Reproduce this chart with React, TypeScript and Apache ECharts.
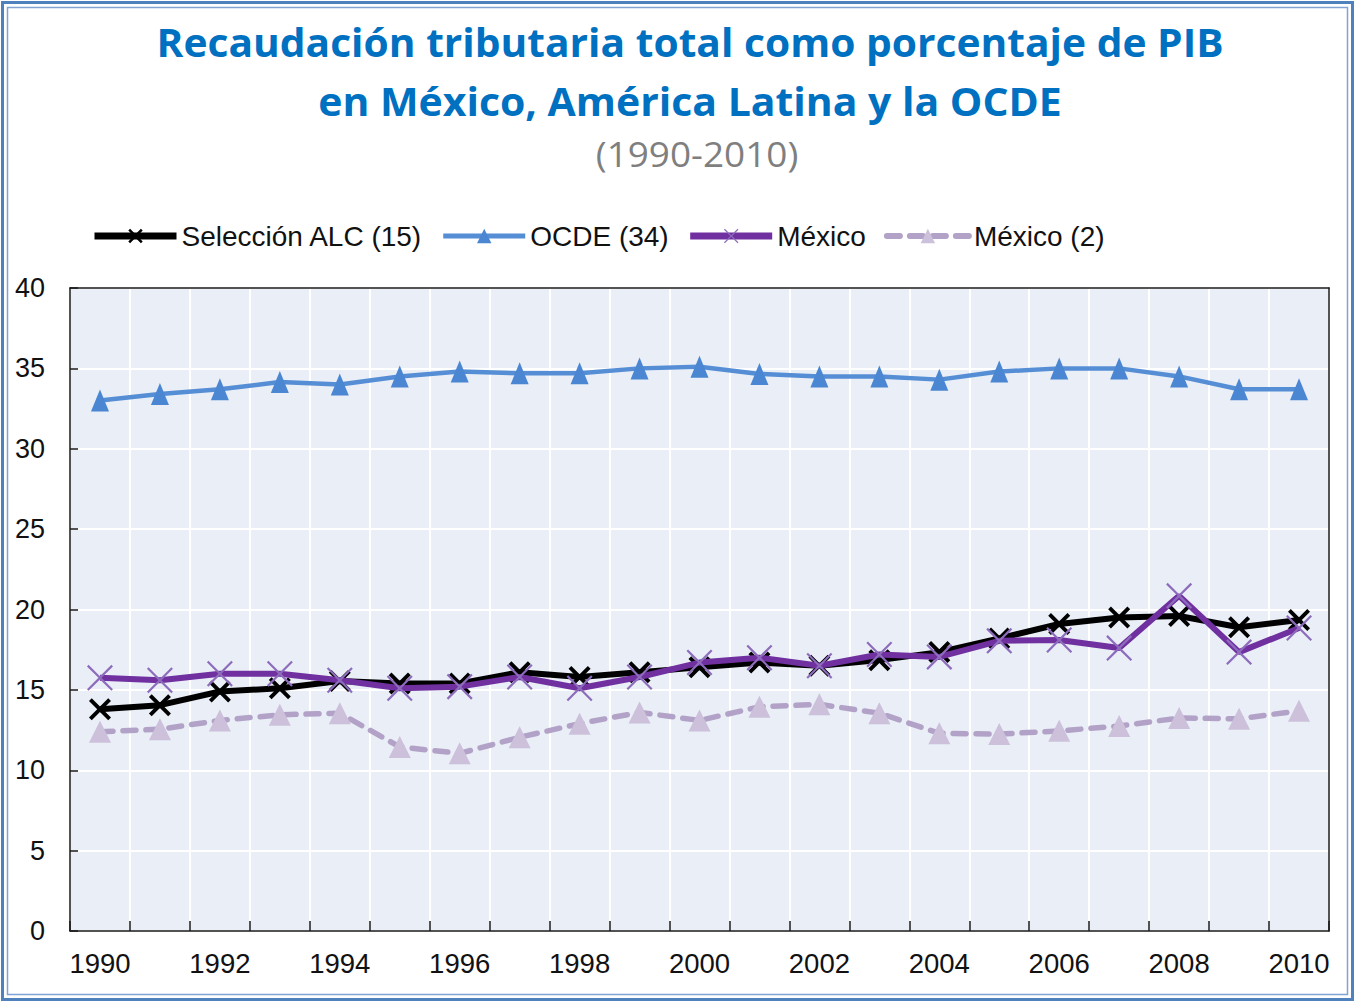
import React, { useEffect, useRef } from "react";
import * as echarts from "echarts";

const years = [
  "1990", "1991", "1992", "1993", "1994", "1995", "1996", "1997", "1998", "1999",
  "2000", "2001", "2002", "2003", "2004", "2005", "2006", "2007", "2008", "2009", "2010",
];
const alc15 = [13.8, 14.05, 14.9, 15.1, 15.55, 15.4, 15.4, 16.1, 15.8, 16.1, 16.4, 16.7, 16.5, 16.85, 17.35, 18.2, 19.1, 19.5, 19.6, 18.9, 19.35];
const ocde34 = [33.0, 33.4, 33.7, 34.15, 34.0, 34.5, 34.8, 34.7, 34.7, 35.0, 35.1, 34.65, 34.5, 34.5, 34.3, 34.8, 35.0, 35.0, 34.5, 33.7, 33.7];
const mexico = [15.75, 15.6, 16.0, 16.0, 15.6, 15.1, 15.2, 15.8, 15.1, 15.8, 16.7, 17.0, 16.5, 17.2, 17.05, 18.05, 18.1, 17.6, 20.85, 17.35, 18.85];
const mexico2 = [12.4, 12.55, 13.1, 13.45, 13.55, 11.45, 11.05, 12.05, 12.9, 13.6, 13.1, 13.95, 14.1, 13.55, 12.3, 12.25, 12.45, 12.75, 13.25, 13.2, 13.7];

const seriesNames = ["Selección ALC (15)", "OCDE (34)", "México", "México (2)"];
const titleLine1 = "Recaudación tributaria total como porcentaje de PIB";
const titleLine2 = "en México, América Latina y la OCDE";
const subtitle = "(1990-2010)";

const thickX = "path://M0,2.5L2.5,0L10,7.5L17.5,0L20,2.5L12.5,10L20,17.5L17.5,20L10,12.5L2.5,20L0,17.5L7.5,10Z";
const thinX = "path://M0,1.2L1.2,0L10,8.8L18.8,0L20,1.2L11.2,10L20,18.8L18.8,20L10,11.2L1.2,20L0,18.8L8.8,10Z";

export default function App() {
  const ref = useRef<HTMLDivElement>(null);
  useEffect(() => {
    const chart = echarts.init(ref.current!, null, { renderer: "svg" });
    const font = "'Liberation Sans', Arial, sans-serif";
    const titleFont = "'Open Sans', sans-serif";
    chart.setOption({
      animation: false,
      backgroundColor: "#ffffff",
      graphic: [
        { type: "rect", shape: { x: 2.5, y: 2.5, width: 1350, height: 997 }, style: { fill: "none", stroke: "#4F81BD", lineWidth: 3 }, silent: true },
        { type: "rect", shape: { x: 7.5, y: 7.5, width: 1340, height: 987 }, style: { fill: "none", stroke: "#7FA3D3", lineWidth: 1.5 }, silent: true },
        {
          type: "text", x: 690, y: 42, scaleX: 1.045, silent: true,
          style: { text: titleLine1, fontFamily: titleFont, fontWeight: "bold", fontSize: 39, fill: "#0070C0", align: "center", verticalAlign: "middle" },
        },
        {
          type: "text", x: 690, y: 101, scaleX: 1.05, silent: true,
          style: { text: titleLine2, fontFamily: titleFont, fontWeight: "bold", fontSize: 39, fill: "#0070C0", align: "center", verticalAlign: "middle" },
        },
        {
          type: "text", x: 697, y: 154, scaleX: 1.055, silent: true,
          style: { text: subtitle, fontFamily: titleFont, fontSize: 35, fill: "#7F7F7F", align: "center", verticalAlign: "middle" },
        },
      ],
      legend: {
        data: [
          { name: seriesNames[0], lineStyle: { width: 7 } },
          { name: seriesNames[1], lineStyle: { width: 5 } },
          { name: seriesNames[2], lineStyle: { width: 7 } },
          { name: seriesNames[3], lineStyle: { width: 6 } },
        ],
        left: 86,
        top: 217,
        itemWidth: 82,
        itemHeight: 18,
        itemGap: 18,
        textStyle: { fontFamily: font, fontSize: 28, color: "#111" },
      },
      grid: {
        left: 70, top: 288, right: 27, bottom: 76,
        show: true, backgroundColor: "#E9EEF7", borderWidth: 0,
      },
      xAxis: [
        {
          type: "category",
          data: years,
          boundaryGap: true,
          axisLine: { show: true, lineStyle: { color: "#1a1a1a", width: 1.5 } },
          axisTick: { show: true, inside: true, length: 10, interval: 0, lineStyle: { color: "#1a1a1a", width: 1.5 } },
          axisLabel: { interval: 1, margin: 18, fontFamily: font, fontSize: 27.5, color: "#111" },
          splitLine: { show: true, interval: 0, lineStyle: { color: "#ffffff", width: 2 } },
        },
        {
          type: "category",
          data: years,
          position: "top",
          boundaryGap: true,
          axisLine: { show: true, onZero: false, lineStyle: { color: "#1a1a1a", width: 1.5 } },
          axisTick: { show: false },
          axisLabel: { show: false },
          splitLine: { show: false },
        },
      ],
      yAxis: [
        {
          type: "value",
          min: 0, max: 40, interval: 5,
          axisLine: { show: true, lineStyle: { color: "#1a1a1a", width: 1.5 } },
          axisTick: { show: true, inside: true, length: 8, lineStyle: { color: "#1a1a1a", width: 1.5 } },
          axisLabel: { margin: 25, fontFamily: font, fontSize: 27, color: "#111" },
          splitLine: { show: true, lineStyle: { color: "#ffffff", width: 2 } },
        },
        {
          type: "value",
          position: "right",
          min: 0, max: 40, interval: 5,
          axisLine: { show: true, onZero: false, lineStyle: { color: "#1a1a1a", width: 1.5 } },
          axisTick: { show: false },
          axisLabel: { show: false },
          splitLine: { show: false },
        },
      ],
      series: [
        {
          name: seriesNames[0], type: "line", data: alc15,
          symbol: thickX, symbolSize: 22, showAllSymbol: true,
          lineStyle: { color: "#000000", width: 6 },
          itemStyle: { color: "#000000" },
          z: 3,
        },
        {
          name: seriesNames[1], type: "line", data: ocde34,
          symbol: "triangle", symbolSize: [18, 22], showAllSymbol: true,
          lineStyle: { color: "#558ED5", width: 4.5 },
          itemStyle: { color: "#4A86D2" },
          z: 3,
        },
        {
          name: seriesNames[2], type: "line", data: mexico,
          symbol: thinX, symbolSize: 26, showAllSymbol: true,
          lineStyle: { color: "#7030A0", width: 6 },
          itemStyle: { color: "#8E6CBC" },
          z: 4,
        },
        {
          name: seriesNames[3], type: "line", data: mexico2,
          symbol: "triangle", symbolSize: [22, 22], showAllSymbol: true,
          lineStyle: { color: "#B3A2C7", width: 5.5, type: [13, 10], cap: "round" },
          itemStyle: { color: "#CCC0DA" },
          z: 2,
        },
      ],
    });
    return () => chart.dispose();
  }, []);
  return (
    <div
      ref={ref}
      style={{ position: "absolute", left: 0, top: 0, width: 1356, height: 1007 }}
    />
  );
}
